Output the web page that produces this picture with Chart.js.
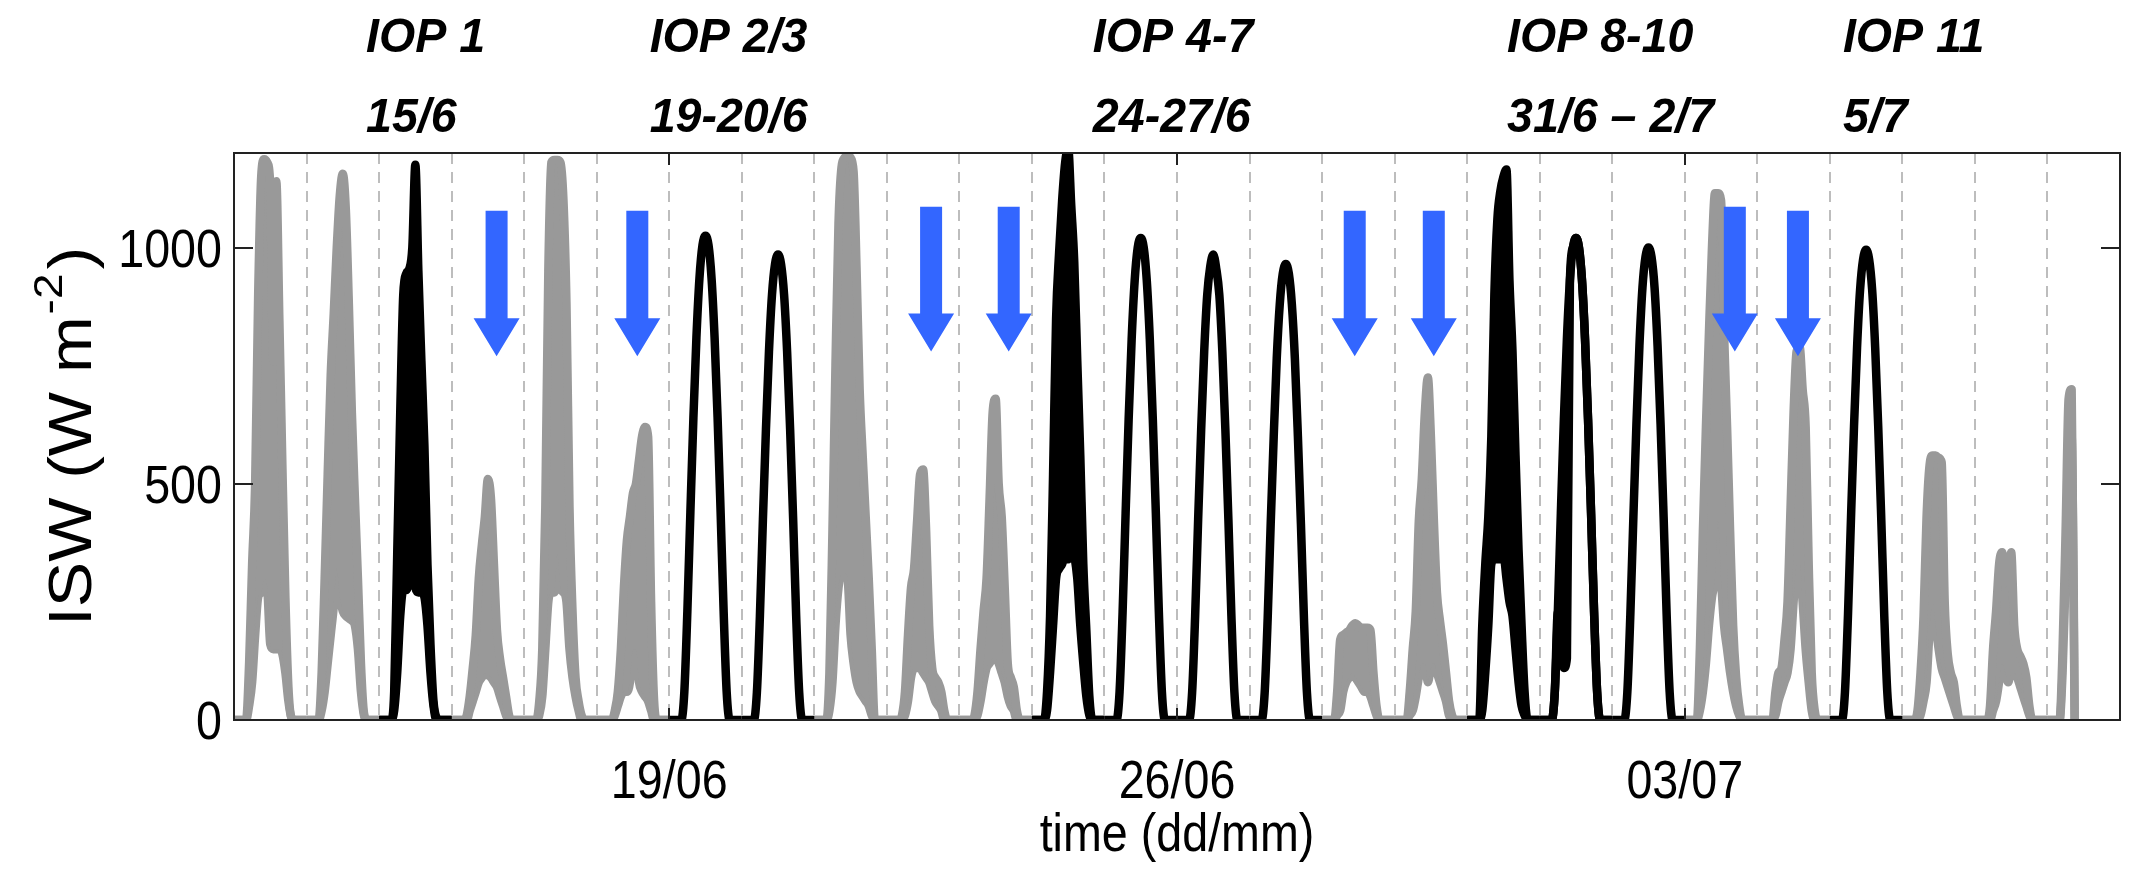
<!DOCTYPE html>
<html>
<head>
<meta charset="utf-8">
<script src="https://cdn.jsdelivr.net/npm/chart.js@4.4.0/dist/chart.umd.min.js"></script>
<style>
html,body{margin:0;padding:0;background:#fff;}
canvas{display:block;}
</style>
</head>
<body>
<canvas id="c" width="2129" height="872"></canvas>
<script>
// ---------------- data ----------------
// Days from 13/06 (day 0) to 08/07 (day 25)
const DAY_LABELS = ['13/06','14/06','15/06','16/06','17/06','18/06','19/06','20/06','21/06','22/06','23/06','24/06','25/06',
  '26/06','27/06','28/06','29/06','30/06','01/07','02/07','03/07','04/07','05/07','06/07','07/07','08/07'];
// Hours of the day (UTC) at which the ISW envelope is read
const HOURS = [0,4,5,6,7,8,9,10,11,12,13,14,15,16,17,18,19,20,24];
// IOP days (drawn black)
const IOP_DAYS = [2,6,7,11,12,13,14,17,18,19,22];

// Upper envelope of ISW (W m-2) per day
const ISW_UPPER = [
  [0, 0,120,330,500,900,1150,1187,1180,1130,760,1140,850,540,260,70,5,0, 0],
  [0, 0,100,300,520,730,860,1000,1110,1156,1080,880,650,470,300,120,15,0, 0],
  [0, 0,60,350,650,900,945,955,1000,1175,950,760,580,330,160,40,5,0, 0],
  [0, 0,10,50,110,180,300,370,430,510,470,330,190,130,90,50,10,0, 0],
  [0, 0,40,150,450,950,1180,1185,1185,1180,1100,880,450,230,90,40,10,0, 0],
  [0, 0,0,20,60,150,280,380,430,480,500,550,600,620,600,250,40,0, 0],
  [0, 0,60,230,440,640,810,935,1005,1025,1005,935,810,640,440,230,60,0, 0],
  [0, 0,58,220,425,615,780,900,965,985,965,900,780,615,425,220,58,0, 0],
  [0, 0,100,400,750,1050,1170,1190,1195,1190,1160,950,700,560,430,300,150,0, 0],
  [0, 0,10,60,180,280,320,420,520,530,400,200,110,90,80,60,20,0, 0],
  [0, 0,10,60,150,230,300,470,650,680,500,430,280,120,90,70,20,0, 0],
  [0, 0,60,220,520,850,990,1100,1180,1210,1090,970,760,560,330,190,50,0, 0],
  [0, 0,60,228,438,636,806,930,1000,1020,1000,930,806,636,438,228,60,0, 0],
  [0, 0,58,220,425,615,780,900,960,985,955,900,780,615,425,220,58,0, 0],
  [0, 0,57,215,415,600,765,880,945,965,945,880,765,600,415,215,57,0, 0],
  [0, 0,60,170,180,185,190,200,205,200,195,195,195,190,100,30,0,0, 0],
  [0, 0,60,150,230,420,510,650,725,600,420,270,210,160,100,40,10,0, 0],
  [0, 0,200,330,430,600,900,1060,1120,1150,1165,930,780,560,360,200,60,0, 0],
  [0, 0,60,228,438,636,806,930,1000,1020,1000,930,806,636,438,228,60,0, 0],
  [0, 0,59,224,430,625,792,915,980,1000,980,915,792,625,430,224,59,0, 0],
  [0, 0,150,400,620,820,1000,1115,1115,1100,820,620,400,200,90,30,0,0, 0],
  [0, 0,0,60,100,110,170,250,450,650,780,790,700,620,330,100,20,0, 0],
  [0, 0,59,222,428,622,788,910,975,995,975,910,788,622,428,222,59,0, 0],
  [0, 0,20,100,220,430,540,560,560,555,545,250,140,100,80,30,0,0, 0],
  [0, 0,30,150,230,330,355,290,310,355,200,150,135,120,90,30,0,0, 0],
  [0, 0,150,400,680,700,0,null,null,null,null,null,null,null,null,null,null,null, null]
];
// Lower envelope of ISW (W m-2) per day (null = no fluctuation, same as upper)
const ISW_LOWER = [
  [0, 0,30,80,180,260,270,300,280,160,150,150,150,140,100,40,5,0, 0],
  [0, 0,20,60,120,180,240,320,260,230,220,215,210,200,150,60,10,0, 0],
  [0, 0,20,100,220,275,275,300,370,280,270,270,260,200,100,30,0,0, 0],
  [0, 0,0,20,40,60,80,90,100,95,90,80,70,50,30,10,0,0, 0],
  [0, 0,10,50,150,250,270,270,350,280,270,250,150,90,50,20,0,0, 0],
  [0, 0,0,10,30,50,60,60,80,150,150,80,60,50,40,20,0,0, 0],
  null,
  null,
  [0, 0,20,80,200,280,310,310,300,180,120,80,60,50,40,30,10,0, 0],
  [0, 0,0,10,40,90,110,110,110,100,90,80,60,40,30,20,0,0, 0],
  [0, 0,0,10,40,80,110,120,130,130,120,100,80,50,30,20,0,0, 0],
  [0, 0,20,100,200,300,320,330,350,340,380,350,300,200,120,50,10,0, 0],
  null,
  null,
  null,
  [0, 0,10,20,60,80,90,100,90,80,70,60,60,50,30,10,0,0, 0],
  [0, 0,10,20,50,90,120,120,80,110,120,100,80,60,40,10,0,0, 0],
  [0, 0,20,100,200,330,340,340,340,350,300,250,220,150,80,30,10,0, 0],
  [0, 0,60,228,200,110,130,930,1000,1020,1000,930,806,636,438,228,60,0, 0],
  null,
  [0, 0,20,60,120,200,260,300,420,300,200,150,100,60,30,10,0,0, 0],
  [0, 0,0,10,40,60,80,100,150,250,330,330,250,150,80,20,0,0, 0],
  null,
  [0, 0,0,10,40,80,190,250,200,150,110,90,70,50,30,10,0,0, 0],
  [0, 0,0,20,40,80,120,100,80,100,100,90,70,50,30,10,0,0, 0],
  [0, 0,100,300,500,600,0,null,null,null,null,null,null,null,null,null,null,null, null]
];

const Y_TICKS = [0, 500, 1000];
const X_TICK_DAYS = [6, 13, 20];
const X_TICK_LABELS = ['19/06', '26/06', '03/07'];
const IOP_NAMES = ['IOP 1', 'IOP 2/3', 'IOP 4-7', 'IOP 8-10', 'IOP 11'];
const IOP_DATES = ['15/6', '19-20/6', '24-27/6', '31/6 \u2013 2/7', '5/7'];
const IOP_LABEL_DAY = [1.82, 5.73, 11.84, 17.55, 22.18];
const ARROW_DAY = [3.62, 5.56, 9.61, 10.68, 15.45, 16.54, 20.69, 21.56];
const ARROW_TOP = [1078, 1078, 1086, 1086, 1078, 1078, 1086, 1078];
const ARROW_TIP = [770, 770, 780, 780, 770, 770, 780, 770];

// ---------------- datasets ----------------
const BLACK = '#000000', GREY = '#999999';
const datasets = [];
for (let d = 0; d < ISW_UPPER.length; d++) {
  const col = IOP_DAYS.includes(d) ? BLACK : GREY;
  const toPts = arr => {
    const pts = [];
    for (let i = 0; i < HOURS.length; i++) {
      if (arr[i] === null || arr[i] === undefined) break;
      pts.push({x: d + HOURS[i] / 24, y: arr[i]});
    }
    return pts;
  };
  const base = {
    borderColor: col, backgroundColor: col, borderWidth: 8.5,
    pointRadius: 0, pointHoverRadius: 0, cubicInterpolationMode: 'monotone',
    borderJoinStyle: 'round', order: col === BLACK ? 0 : 1
  };
  if (ISW_LOWER[d]) {
    datasets.push(Object.assign({}, base, {label: DAY_LABELS[d] + ' max', data: toPts(ISW_UPPER[d]), fill: '+1'}));
    datasets.push(Object.assign({}, base, {label: DAY_LABELS[d] + ' min', data: toPts(ISW_LOWER[d]), fill: false}));
  } else {
    datasets.push(Object.assign({}, base, {label: DAY_LABELS[d], data: toPts(ISW_UPPER[d]), fill: false}));
  }
}

// ---------------- decoration plugin ----------------
const FONT = '"Liberation Sans", Arial, Helvetica, sans-serif';
function drawText(ctx, s, x, y, font, align, sx) {
  ctx.save();
  ctx.translate(x, y);
  ctx.scale(sx || 1, 1);
  ctx.font = font;
  ctx.textAlign = align;
  ctx.textBaseline = 'alphabetic';
  ctx.fillStyle = '#000';
  ctx.fillText(s, 0, 0);
  ctx.restore();
}
const deco = {
  id: 'deco',
  beforeDatasetsDraw(chart) {
    const {ctx, chartArea: a, scales: {x}} = chart;
    ctx.save();
    ctx.strokeStyle = '#a8a8a8';
    ctx.lineWidth = 1.5;
    ctx.setLineDash([11, 8]);
    for (let d = 1; d < 26; d++) {
      const px = Math.round(x.getPixelForValue(d));
      ctx.beginPath();
      ctx.moveTo(px, a.top);
      ctx.lineTo(px, a.bottom);
      ctx.stroke();
    }
    ctx.restore();
  },
  afterDatasetsDraw(chart) {
    const {ctx, chartArea: a, scales: {x, y}} = chart;
    // arrows
    ctx.save();
    ctx.fillStyle = '#3366ff';
    for (let i = 0; i < ARROW_DAY.length; i++) {
      const cx = x.getPixelForValue(ARROW_DAY[i]);
      const top = y.getPixelForValue(ARROW_TOP[i]);
      const tip = y.getPixelForValue(ARROW_TIP[i]);
      const hb = tip - 38;
      ctx.beginPath();
      ctx.moveTo(cx - 11, top);
      ctx.lineTo(cx + 11, top);
      ctx.lineTo(cx + 11, hb);
      ctx.lineTo(cx + 23, hb);
      ctx.lineTo(cx, tip);
      ctx.lineTo(cx - 23, hb);
      ctx.lineTo(cx - 11, hb);
      ctx.closePath();
      ctx.fill();
    }
    ctx.restore();

    // box and ticks
    ctx.save();
    ctx.strokeStyle = '#222';
    ctx.lineWidth = 2;
    ctx.strokeRect(a.left, a.top, a.right - a.left, a.bottom - a.top);
    ctx.beginPath();
    Y_TICKS.forEach(v => {
      const py = Math.round(y.getPixelForValue(v));
      ctx.moveTo(a.left, py); ctx.lineTo(a.left + 19, py);
      ctx.moveTo(a.right, py); ctx.lineTo(a.right - 19, py);
    });
    X_TICK_DAYS.forEach(d => {
      const px = Math.round(x.getPixelForValue(d));
      ctx.moveTo(px, a.bottom); ctx.lineTo(px, a.bottom - 12);
      ctx.moveTo(px, a.top); ctx.lineTo(px, a.top + 12);
    });
    ctx.stroke();
    ctx.restore();

    // tick labels
    const tickF = '53px ' + FONT;
    Y_TICKS.forEach(v => {
      const py = y.getPixelForValue(v);
      drawText(ctx, String(v), 222, py + 19, tickF, 'right', 0.88);
    });
    X_TICK_DAYS.forEach((d, i) => {
      drawText(ctx, X_TICK_LABELS[i], x.getPixelForValue(d), 798, tickF, 'center', 0.88);
    });
    // x title
    drawText(ctx, 'time (dd/mm)', (a.left + a.right) / 2, 851, tickF, 'center', 0.88);
    // y title with superscript
    ctx.save();
    ctx.translate(91, (a.top + a.bottom) / 2);
    ctx.rotate(-Math.PI / 2);
    ctx.scale(1, 0.9);
    ctx.fillStyle = '#000';
    ctx.textBaseline = 'alphabetic';
    ctx.textAlign = 'left';
    const mainF = '68px ' + FONT, supF = '46px ' + FONT;
    ctx.font = mainF; const w1 = ctx.measureText('ISW (W m').width; const w3 = ctx.measureText(')').width;
    ctx.font = supF; const w2 = ctx.measureText('-2').width;
    const x0 = -(w1 + w2 + w3 + 6) / 2;
    ctx.font = mainF; ctx.fillText('ISW (W m', x0, 0);
    ctx.font = supF; ctx.fillText('-2', x0 + w1 + 2, -32);
    ctx.font = mainF; ctx.fillText(')', x0 + w1 + w2 + 6, 0);
    ctx.restore();

    // IOP annotations
    IOP_NAMES.forEach((s, i) => {
      const px = x.getPixelForValue(IOP_LABEL_DAY[i]);
      drawText(ctx, s, px, 52, 'italic bold 48px ' + FONT, 'left', 0.97);
      drawText(ctx, IOP_DATES[i], px, 132, 'italic bold 48px ' + FONT, 'left', 0.97);
    });
  }
};

// ---------------- chart ----------------
new Chart(document.getElementById('c'), {
  type: 'line',
  data: {datasets},
  options: {
    responsive: false,
    animation: false,
    events: [],
    layout: {padding: {top: 153, right: 9, left: 0, bottom: 0}},
    plugins: {legend: {display: false}, tooltip: {enabled: false}},
    scales: {
      x: {
        type: 'linear', min: 0, max: 26,
        grid: {display: false}, border: {display: false},
        ticks: {display: false},
        afterFit(s) { s.height = 152; }
      },
      y: {
        type: 'linear', min: 0, max: 1200,
        grid: {display: false}, border: {display: false},
        ticks: {display: false},
        afterFit(s) { s.width = 234; }
      }
    }
  },
  plugins: [deco]
});
</script>
</body>
</html>
